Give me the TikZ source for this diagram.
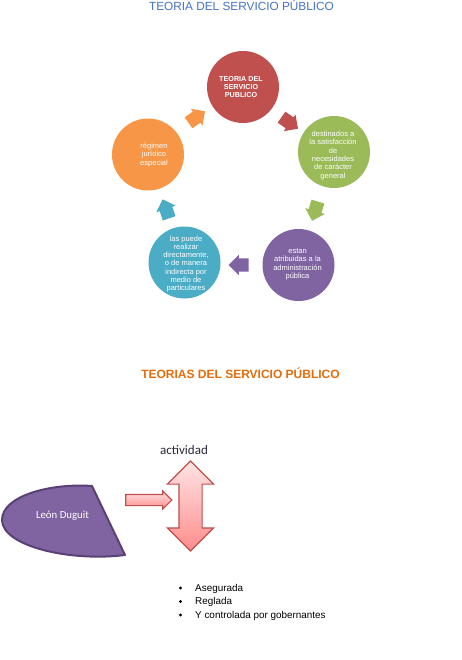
\documentclass[tikz,border=0pt]{standalone}
\usepackage{fontspec}
\setmainfont{Liberation Sans}
\newfontfamily\carlito{Carlito}
\usetikzlibrary{shapes.arrows,calc}
\definecolor{cred}{HTML}{C0504D}
\definecolor{cgreen}{HTML}{9BBB59}
\definecolor{cpurple}{HTML}{8064A2}
\definecolor{cblue}{HTML}{4BACC6}
\definecolor{corange}{HTML}{F79646}
\definecolor{titleblue}{RGB}{68,114,196}
\definecolor{titleorange}{RGB}{228,108,10}
\definecolor{actcol}{RGB}{40,40,60}
\definecolor{dugborder}{RGB}{90,65,115}
\definecolor{pinklight}{RGB}{255,228,228}
\definecolor{pinkdark}{RGB}{255,140,140}
\begin{document}
\begin{tikzpicture}[x=1pt,y=-1pt,
  circ/.style={circle,minimum size=72pt,inner sep=0pt,draw=none},
  ctext/.style={text=white,align=center,inner sep=0pt,font=\fontsize{7.5}{8.3}\selectfont},
  cycarrow/.style={single arrow,minimum height=20pt,inner sep=6.5pt,single arrow head extend=3.5pt,draw=none},
  pinkarrow/.style={draw=cred,line width=1.1pt,top color=pinklight,bottom color=pinkdark},
  bul/.style={circle,fill=black,inner sep=0pt,minimum size=3.4pt},
  btext/.style={anchor=base west,inner sep=0pt,font=\fontsize{9.9}{12}\selectfont}]
\useasboundingbox (0,0) rectangle (462,660);
% title
\node[anchor=base,inner sep=0pt,text=titleblue,font=\fontsize{11.8}{14}\selectfont] (t1) at (241.5,11) {TEORIA DEL SERVICIO PÚBLICO};
% cycle circles
\node[circ,fill=cred] (c1) at (243,87) {};
\node[circ,fill=cgreen] (c2) at (334,152) {};
\node[circ,fill=cpurple] (c3) at (298.5,265) {};
\node[circ,fill=cblue] (c4) at (184.5,262.5) {};
\node[circ,fill=corange] (c5) at (148,154.5) {};
% texts
\node[ctext,font=\bfseries\fontsize{7.2}{8.3}\selectfont] (x1) at (241,87) {TEORIA DEL\\SERVICIO\\PUBLICO};
\node[ctext] (x2) at (333,155.5) {destinados a\\la satisfacción\\de\\necesidades\\de carácter\\general};
\node[ctext] (x3) at (297.5,264.5) {estan\\atribuidas a la\\administración\\pública};
\node[ctext] (x4) at (186,264) {las puede\\realizar\\directamente,\\o de manera\\indirecta por\\medio de\\particulares};
\node[ctext] (x5) at (154,155) {régimen\\jurídico\\especial};
% cycle arrows
\node[cycarrow,fill=cred,rotate=-35] (a1) at (287,121) {};
\node[cycarrow,fill=cgreen,rotate=-107] (a2) at (316,208) {};
\node[cycarrow,fill=cpurple,rotate=180] (a3) at (242,265) {};
\node[cycarrow,fill=cblue,rotate=109] (a4) at (167,212) {};
\node[cycarrow,fill=corange,rotate=35] (a5) at (194,119) {};
% second title
\node[anchor=base,inner sep=0pt,text=titleorange,font=\bfseries\fontsize{12}{14}\selectfont] (t2) at (240.5,378.5) {TEORIAS DEL SERVICIO PÚBLICO};
% actividad
\node[anchor=base,inner sep=0pt,text=actcol,font=\carlito\fontsize{13}{15}\selectfont] (act) at (184,454) {actividad};
% Leon Duguit shape
\draw[fill=cpurple,draw=dugborder,line width=2pt,line join=round]
  (92,486) .. controls (50,483) and (2,496) .. (2,520)
  .. controls (2,546) and (70,562) .. (125,555) -- cycle;
\node[inner sep=0pt,text=white,font=\carlito\fontsize{10.8}{13}\selectfont] (dug) at (62.5,516) {León Duguit};
% pink arrows
\node[pinkarrow,single arrow,minimum height=46pt,inner sep=5pt,single arrow head extend=3.5pt] (arr) at (146,500) {};
\node[pinkarrow,double arrow,shape border rotate=90,minimum height=90pt,inner sep=11pt,double arrow head extend=11.5pt] (dbl) at (190.5,506) {};
% bullets
\node[bul] (b1) at (180.5,588) {};
\node[bul] (b2) at (180.5,601.5) {};
\node[bul] (b3) at (180.5,615) {};
\node[btext] (l1) at (195,591) {Asegurada};
\node[btext] (l2) at (195,604.5) {Reglada};
\node[btext] (l3) at (195,618) {Y controlada por gobernantes};
\end{tikzpicture}
\end{document}
